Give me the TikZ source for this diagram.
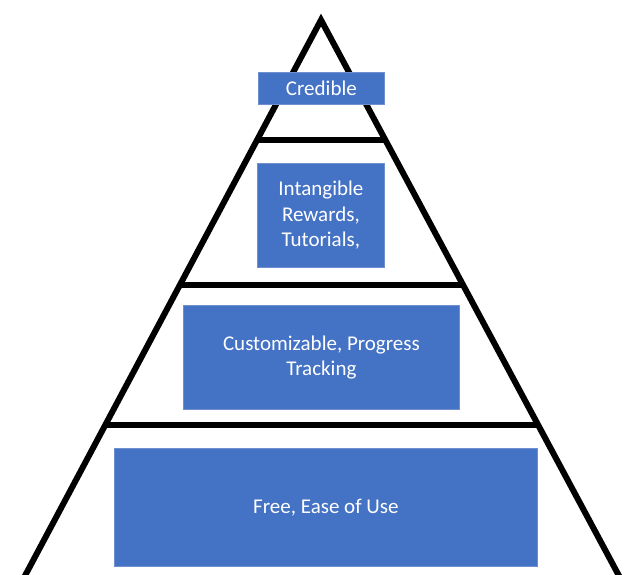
\documentclass[tikz,border=0pt]{standalone}
\usepackage{fontspec}
\setmainfont{Carlito}
\usetikzlibrary{calc}
\begin{document}
\begin{tikzpicture}[x=1pt,y=-1pt,
  level/.style={draw=black,line width=6pt},
  tier/.style={fill=boxblue,draw=boxedge,line width=0.8pt,text=white,align=center,
    inner sep=0pt,font=\fontsize{21}{25.5}\selectfont,anchor=north west},
]
\definecolor{boxblue}{HTML}{4472C4}
\definecolor{boxedge}{HTML}{6F8FD0}
\useasboundingbox (0,0) rectangle (626,575);
\clip (0,0) rectangle (626,575);
\coordinate (apex) at (321,20);
\coordinate (bl) at (19,587);
\coordinate (br) at (625,587);
\draw[level,line join=miter] (bl) -- (apex) -- (br);
% horizontal dividers
\coordinate (l1) at ($(apex)!0.2116!(bl)$);
\coordinate (r1) at ($(apex)!0.2116!(br)$);
\coordinate (l2) at ($(apex)!0.4674!(bl)$);
\coordinate (r2) at ($(apex)!0.4674!(br)$);
\coordinate (l3) at ($(apex)!0.7143!(bl)$);
\coordinate (r3) at ($(apex)!0.7143!(br)$);
\draw[level] (l1) -- (r1);
\draw[level] (l2) -- (r2);
\draw[level] (l3) -- (r3);
% boxes
\node[tier,minimum width=126pt,minimum height=32pt] (cred) at (258,72) {Credible};
\node[tier,minimum width=127pt,minimum height=104pt] (intang) at (257,163) {Intangible\\Rewards,\\Tutorials,};
\node[tier,minimum width=276pt,minimum height=104pt] (cust) at (183,305) {Customizable, Progress\\Tracking};
\node[tier,minimum width=423pt,minimum height=118pt] (free) at (114,448) {Free, Ease of Use};
\end{tikzpicture}
\end{document}
